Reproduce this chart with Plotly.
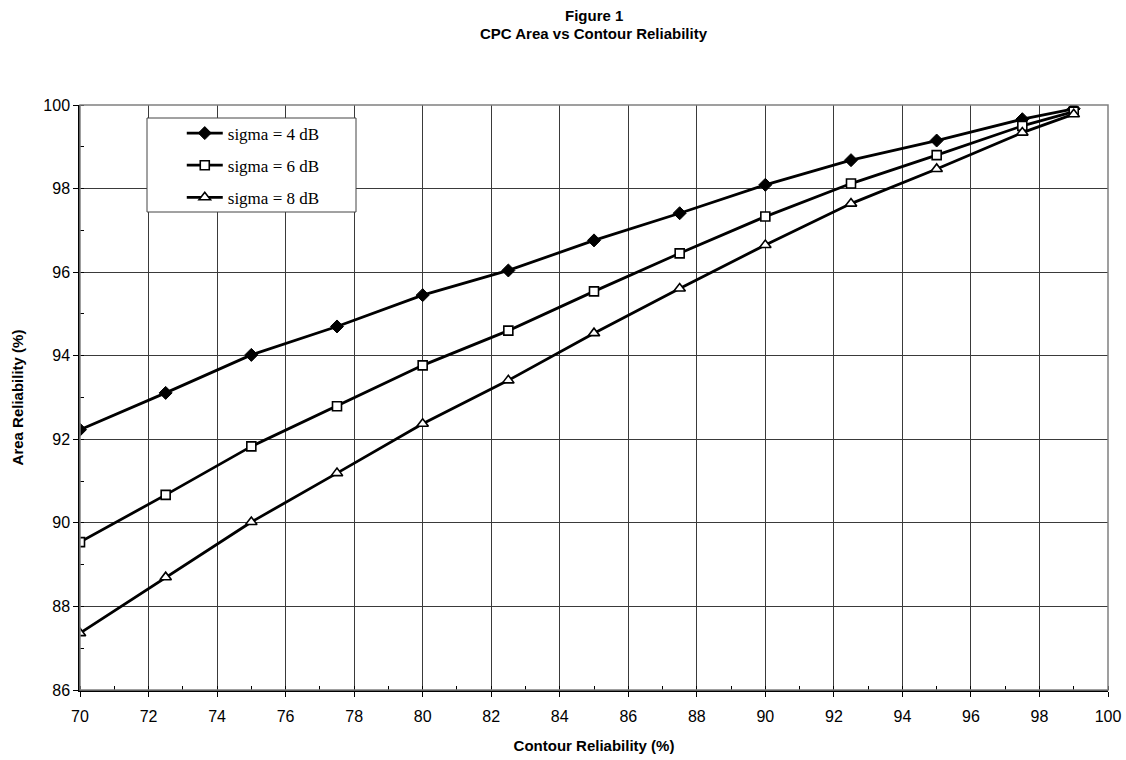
import plotly.graph_objects as go

contour = [70, 72.5, 75, 77.5, 80, 82.5, 85, 87.5, 90, 92.5, 95, 97.5, 99]
sigma4 = [92.23, 93.11, 94.02, 94.70, 95.45, 96.04, 96.76, 97.41, 98.09, 98.68, 99.15, 99.66, 99.91]
sigma6 = [89.54, 90.67, 91.83, 92.79, 93.77, 94.60, 95.54, 96.45, 97.33, 98.12, 98.80, 99.50, 99.84]
sigma8 = [87.36, 88.70, 90.02, 91.19, 92.37, 93.41, 94.54, 95.61, 96.65, 97.64, 98.47, 99.34, 99.78]
names = ["sigma = 4 dB", "sigma = 6 dB", "sigma = 8 dB"]
title_lines = ["Figure 1", "CPC Area vs Contour Reliability"]
xticks = list(range(70, 101, 2))
yticks = list(range(86, 101, 2))

fig = go.Figure()
series = [
    (sigma4, dict(symbol="diamond", size=10, color="black", line=dict(color="black", width=1))),
    (sigma6, dict(symbol="square", size=9, color="white", line=dict(color="black", width=1.6))),
    (sigma8, dict(symbol="triangle-up", size=10, color="white", line=dict(color="black", width=1.6))),
]
for i, (vals, mk) in enumerate(series):
    fig.add_trace(go.Scatter(
        x=contour, y=vals, name=names[i], mode="lines+markers",
        line=dict(color="black", width=2.8), marker=mk,
        legendgroup=f"g{i}",
    ))

annotations = []
for k, txt in enumerate(title_lines):
    annotations.append(dict(
        text=f"<b>{txt}</b>", xref="paper", yref="paper", x=0.5,
        y=1 + (105 - (15 + 18 * k)) / 585, xanchor="center", yanchor="middle",
        showarrow=False, font=dict(size=15, family="Liberation Sans, Arial"),
    ))

fig.update_layout(
    width=1126, height=760,
    margin=dict(l=80, r=18, t=105, b=70, autoexpand=False),
    paper_bgcolor="white", plot_bgcolor="white",
    font=dict(family="Liberation Sans, Arial", size=16, color="black"),
    annotations=annotations,
    showlegend=True,
    legend=dict(x=0.099, y=0.982, xanchor="left", yanchor="top",
                bgcolor="rgba(0,0,0,0)", borderwidth=0,
                font=dict(family="Liberation Serif, Times New Roman", size=17),
                tracegroupgap=7, itemwidth=36),
    shapes=[
        dict(type="rect", xref="paper", yref="paper", x0=0, x1=1, y0=0, y1=1,
             line=dict(color="#808080", width=1.5), layer="above"),
        dict(type="rect", xref="paper", yref="paper",
             x0=(147 - 80) / 1028, x1=(356 - 80) / 1028,
             y0=(690 - 212) / 585, y1=(690 - 118) / 585,
             line=dict(color="#444", width=1), fillcolor="white", layer="above"),
    ],
)
fig.update_xaxes(
    range=[70, 100], tickvals=xticks, ticks="outside", ticklen=5, tickcolor="black",
    showgrid=True, gridcolor="#3a3a3a", gridwidth=1, automargin=False,
    showline=True, linecolor="black", linewidth=1.5, zeroline=False,
    minor=dict(dtick=1, ticks="inside", ticklen=4, tickcolor="black", showgrid=False),
    title=dict(text="<b>Contour Reliability (%)</b>", font=dict(size=15), standoff=17),
    tickfont=dict(size=16), ticklabelstandoff=6,
)
fig.update_yaxes(
    range=[86, 100], tickvals=yticks, ticks="outside", ticklen=5, tickcolor="black",
    showgrid=True, gridcolor="#3a3a3a", gridwidth=1, automargin=False,
    showline=True, linecolor="black", linewidth=1.5, zeroline=False,
    minor=dict(dtick=1, ticks="inside", ticklen=4, tickcolor="black", showgrid=False),
    title=dict(text="<b>Area Reliability (%)</b>", font=dict(size=15), standoff=16),
    tickfont=dict(size=16),
)
fig.write_html("out.html")
